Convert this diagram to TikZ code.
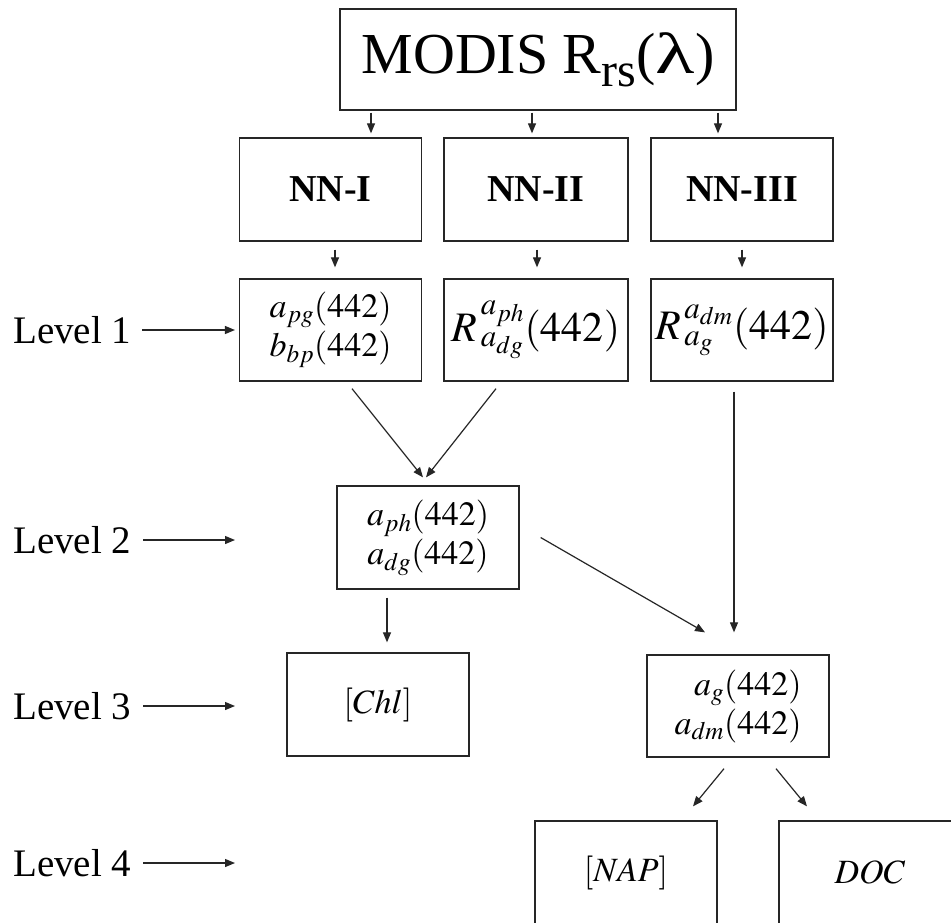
\documentclass[tikz,border=0pt]{standalone}
\usepackage{mathptmx}
\usepackage{fontspec}
\setmainfont{Liberation Serif}
\usepackage{graphicx}
\usetikzlibrary{arrows.meta}
\begin{document}
\begin{tikzpicture}[x=1pt,y=-1pt,
  box/.style={draw=black!85, line width=1.3pt, minimum width=182pt, minimum height=103pt, inner sep=0pt, align=center},
  arr/.style={-{Triangle[length=10pt,width=8pt]}, line width=1.2pt, draw=black!85},
  lvl/.style={anchor=west, inner sep=0pt, font=\fontsize{39}{44}\selectfont},
  nnbox/.style={box, font=\fontsize{38}{44}\selectfont\bfseries},
  smallm/.style={box, font=\fontsize{34}{39}\selectfont},
  bigm/.style={box, font=\fontsize{42}{48}\selectfont}]
\clip (0,0) rectangle (951,922);
\fill[white] (0,0) rectangle (951,922);
% top
\node[box, minimum width=396pt, minimum height=101pt, font=\fontsize{58}{62}\selectfont] (top) at (538,59.5)
  {MODIS R\raisebox{-13pt}{\fontsize{48}{50}\selectfont rs}(\scalebox{1.4}[1]{λ})};
% NN row
\node[nnbox] (nn1) at (330.6,189.5) {NN-I};
\node[nnbox, minimum width=184pt] (nn2) at (536,189.5) {NN-II};
\node[nnbox] (nn3) at (742,189.5) {NN-III};
% level 1 row
\node[smallm, minimum height=102pt] (l1a) at (330.6,330) {$a_{pg}(442)$\\$b_{bp}(442)$};
\node[bigm, minimum width=184pt, minimum height=102pt] (l1b) at (536,330) {$R^{\,a_{ph}}_{\,a_{dg}}(442)$};
\node[bigm, minimum height=102pt] (l1c) at (742,330) {$R^{\,a_{dm}}_{\,a_g}(442)$};
% level 2
\node[smallm] (l2) at (428,537.5) {$a_{ph}(442)$\\$a_{dg}(442)$};
% level 3
\node[smallm] (chl) at (378,704.5) {$[Chl]$};
\node[smallm, align=right, minimum height=102pt] (ag) at (738,706) {$a_{g}(442)$\\$a_{dm}(442)$};
% level 4
\node[smallm] (nap) at (626,872.5) {$[NAP]$};
\node[smallm] (doc) at (870,872.5) {$DOC$};
% level labels
\node[lvl] (lv1) at (13,330) {Level 1};
\node[lvl] (lv2) at (13,540) {Level 2};
\node[lvl] (lv3) at (13,706) {Level 3};
\node[lvl] (lv4) at (13,863) {Level 4};
\coordinate (lv2e) at (235,540);
\coordinate (lv3e) at (235,706);
\coordinate (lv4e) at (235,863);
\draw[arr] ([xshift=11pt]lv1.east) -- ([xshift=-4pt]l1a.west);
\draw[arr] ([xshift=12pt]lv2.east) -- (lv2e);
\draw[arr] ([xshift=12pt]lv3.east) -- (lv3e);
\draw[arr] ([xshift=12pt]lv4.east) -- (lv4e);
% top arrows
\draw[arr] ([xshift=-167pt,yshift=-2pt]top.south) -- ([xshift=40.4pt,yshift=4pt]nn1.north);
\draw[arr] ([xshift=-6pt,yshift=-2pt]top.south) -- ([xshift=-4pt,yshift=4pt]nn2.north);
\draw[arr] ([xshift=180pt,yshift=-2pt]top.south) -- ([xshift=-24pt,yshift=4pt]nn3.north);
% NN -> level 1
\draw[arr] ([xshift=4.4pt,yshift=-8pt]nn1.south) -- ([xshift=4.4pt,yshift=11pt]l1a.north);
\draw[arr] ([xshift=1pt,yshift=-8pt]nn2.south) -- ([xshift=1pt,yshift=11pt]l1b.north);
\draw[arr] ([yshift=-8pt]nn3.south) -- ([yshift=11pt]l1c.north);
% level 1 -> level 2
\draw[arr] ([xshift=21.4pt,yshift=-7pt]l1a.south) -- ([xshift=-5pt,yshift=8pt]l2.north);
\draw[arr] ([xshift=-40pt,yshift=-7pt]l1b.south) -- ([xshift=-2pt,yshift=8pt]l2.north);
\draw[arr] ([xshift=-8pt,yshift=-10pt]l1c.south) -- ([xshift=-4pt,yshift=22pt]ag.north);
% level 2 -> level 3
\draw[arr] ([xshift=21pt]l2.east) -- ([xshift=-33pt,yshift=22pt]ag.north);
\draw[arr] ([xshift=-41pt,yshift=-8pt]l2.south) -- ([xshift=9pt,yshift=10pt]chl.north);
% level 3 -> level 4
\draw[arr] ([xshift=-14pt,yshift=-11pt]ag.south) -- ([xshift=67pt,yshift=14pt]nap.north);
\draw[arr] ([xshift=38pt,yshift=-11pt]ag.south) -- ([xshift=-63pt,yshift=14pt]doc.north);
\end{tikzpicture}
\end{document}
